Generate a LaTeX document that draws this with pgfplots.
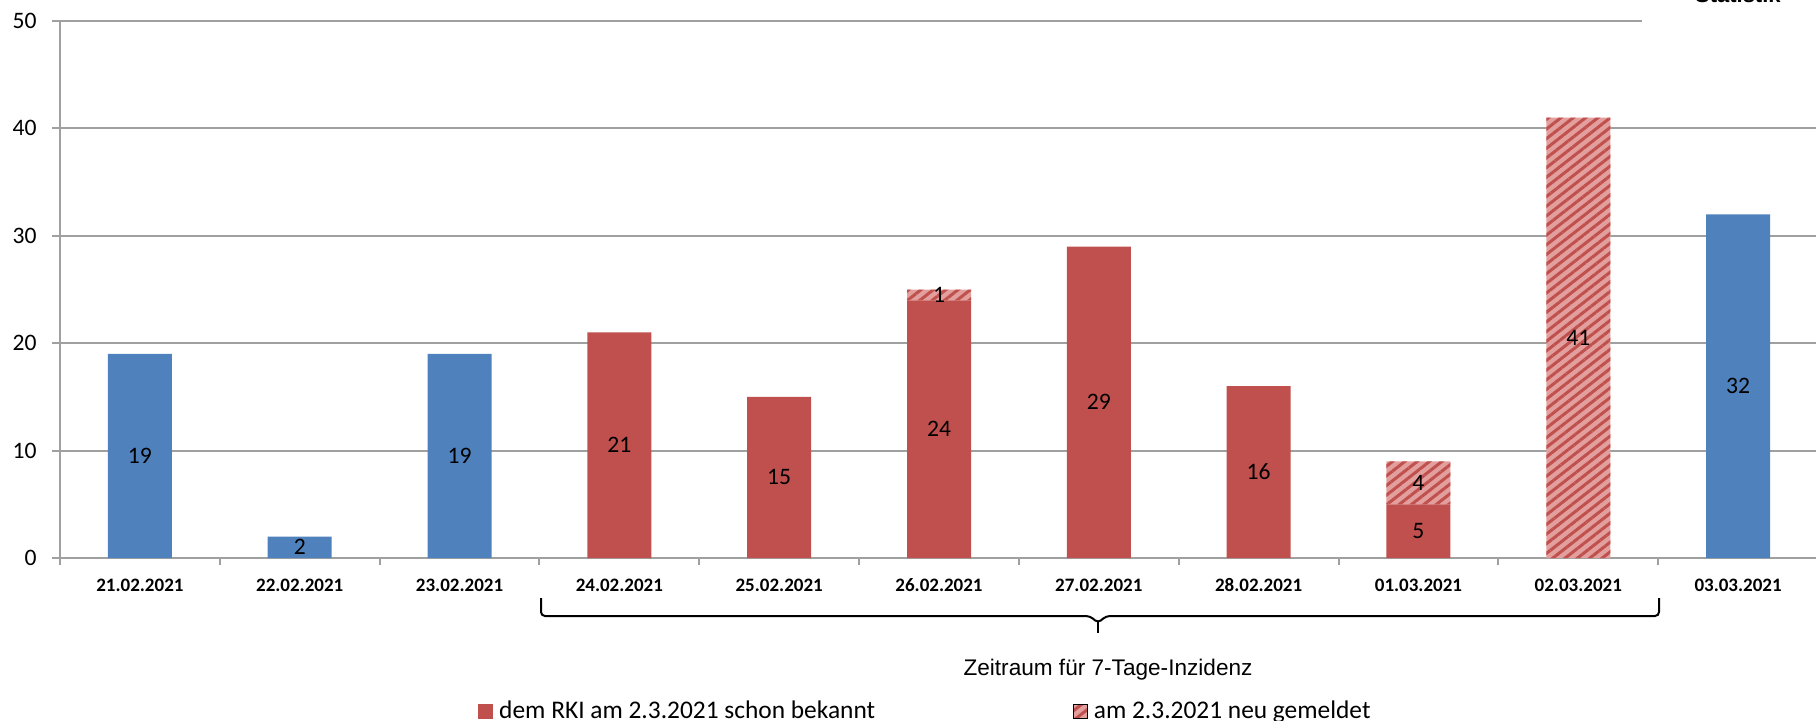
\documentclass[border=0pt]{standalone}
\usepackage{fontspec}
\setmainfont{Carlito}
\newfontfamily\arial{Liberation Sans}
\usepackage{pgfplots}
\pgfplotsset{compat=1.18}
\usetikzlibrary{patterns.meta}
\definecolor{xblue}{HTML}{4F81BD}
\definecolor{xred}{HTML}{C0504D}
\definecolor{xpink}{HTML}{E29F9D}
\definecolor{xgrid}{HTML}{A0A0A0}
\tikzset{hatch/.style={fill=xpink, postaction={pattern={Lines[angle=38,distance=3.8pt,line width=1.5pt]}, pattern color=xred}}}
\pgfplotsset{frame/.style={at={(30pt,81pt)}, anchor=south west,
  scale only axis, width=879pt, height=268.5pt,
  xmin=-0.5, xmax=10.5, ymin=0, ymax=50, clip=false}}
\begin{document}
\begin{tikzpicture}
\useasboundingbox (0,0) rectangle (908pt,360pt);
\begin{axis}[
  frame,
  ybar stacked, bar width=32pt,
  axis x line=bottom, axis y line=left,
  axis line style={xgrid, line width=1pt, -},
  ytick={0,10,20,30,40,50}, ymajorgrids,
  grid style={xgrid, line width=1pt},
  xtick={0,...,10},
  xticklabels={21.02.2021,22.02.2021,23.02.2021,24.02.2021,25.02.2021,26.02.2021,27.02.2021,28.02.2021,01.03.2021,02.03.2021,03.03.2021},
  minor xtick={-0.5,0.5,...,10.5},
  tick align=outside, major tick length=4pt, minor tick length=3.5pt,
  major x tick style={draw=none},
  minor x tick style={xgrid, line width=1pt},
  y tick style={xgrid, line width=1pt},
  /pgf/number format/assume math mode=true,
  yticklabel style={font=\fontsize{11.8}{12}\selectfont, inner sep=0pt, xshift=-7.5pt},
  xticklabel style={font=\bfseries\fontsize{9.5}{10}\selectfont, anchor=base, yshift=-12.5pt},
  legend style={at={(0.2378,-0.286)}, anchor=west, draw=none, fill=none, inner sep=0pt,
    font=\fontsize{12.7}{13}\selectfont, legend columns=2,
    nodes={inner sep=0pt},
    /tikz/every odd column/.append style={column sep=3pt},
    /tikz/every even column/.append style={column sep=99pt}},
]
\addlegendimage{legend image code/.code={\fill[xred] (0pt,-3.5pt) rectangle (7pt,3.5pt);}}
\addlegendentry{dem RKI am 2.3.2021 schon bekannt}
\addlegendimage{legend image code/.code={\path[hatch] (0pt,-3.5pt) rectangle (7pt,3.5pt);}}
\addlegendentry{am 2.3.2021 neu gemeldet}
% blue: days outside the 7-day window
\addplot[fill=xblue, draw=none, forget plot] coordinates {(0,19) (1,2) (2,19) (3,0) (4,0) (5,0) (6,0) (7,0) (8,0) (9,0) (10,32)};
% red: already known to the RKI on 2.3.2021
\addplot[fill=xred, draw=none, forget plot] coordinates {(0,0) (1,0) (2,0) (3,21) (4,15) (5,24) (6,29) (7,16) (8,5) (9,0) (10,0)};
% hatched: newly reported on 2.3.2021
\addplot[hatch, draw=none, forget plot] coordinates {(0,0) (1,0) (2,0) (3,0) (4,0) (5,1) (6,0) (7,0) (8,4) (9,41) (10,0)};
\end{axis}
% value labels (same frame, centred in each segment)
\begin{axis}[frame, hide axis]
\addplot[only marks, mark=*, mark size=0pt, mark options={draw=none, fill=none},
  nodes near coords, point meta=explicit symbolic,
  every node near coord/.append style={anchor=center, inner sep=0pt, font=\fontsize{11.8}{12}\selectfont, text=black}]
  coordinates {(0,9.5) [19] (1,1) [2] (2,9.5) [19] (3,10.5) [21] (4,7.5) [15] (5,12) [24] (5,24.5) [1]
    (6,14.5) [29] (7,8) [16] (8,2.5) [5] (8,7) [4] (9,20.5) [41] (10,16) [32]};
\end{axis}
\fill[white] (821pt,347.5pt) rectangle (910pt,352pt);
% brace for the 7-day window
\draw[line width=1pt, rounded corners=2pt] (270.5pt,61pt) -- (270.5pt,52pt) -- (545pt,52pt) -- (549pt,48.5pt) -- (553pt,52pt) -- (829.5pt,52pt) -- (829.5pt,61pt);
\draw[line width=1pt] (549pt,49pt) -- (549pt,43.5pt);
\node[anchor=base, font=\arial\fontsize{11.3}{12}\selectfont] at (554pt,22.3pt) {Zeitraum für 7-Tage-Inzidenz};
\node[anchor=base west, font=\arial\bfseries\fontsize{11}{12}\selectfont] at (844pt,359pt) {Statistik};
\end{tikzpicture}
\end{document}
